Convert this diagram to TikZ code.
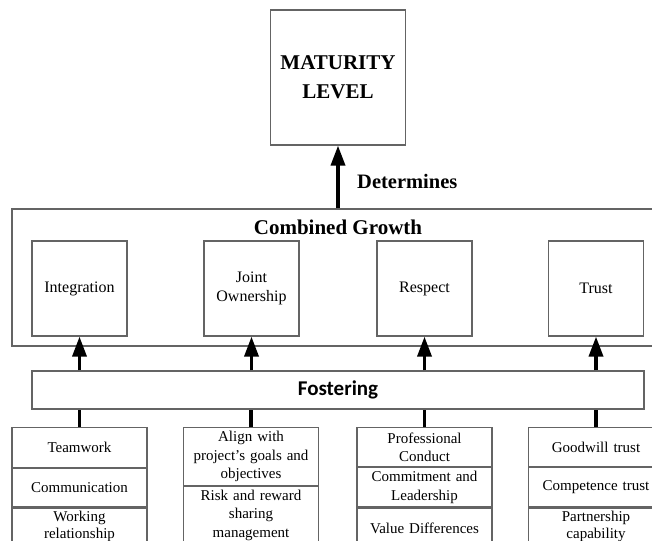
\documentclass[tikz,border=0pt]{standalone}
\usepackage{fontspec}
\setmainfont{Liberation Serif}
\newfontfamily\calibri{Carlito}
\usetikzlibrary{positioning,arrows.meta}
\definecolor{edgegray}{RGB}{100,100,100}

\begin{document}
\begin{tikzpicture}[x=1pt,y=-1pt,
    box/.style={draw=edgegray,line width=1.2pt,align=center},
    goal/.style={box,minimum width=95pt,minimum height=95pt,
      font=\fontsize{16}{18.5}\selectfont},
    factor/.style={box,minimum width=135pt,text width=131pt,
      inner xsep=2pt,inner ysep=0pt,font=\fontsize{15}{18.5}\selectfont},
    up/.style={line width=3.5pt,-{Triangle[length=20pt,width=14pt]}},
    link/.style={line width=3.5pt}]
  \useasboundingbox (0,0) rectangle (652,540);
  \clip (0,0) rectangle (652,540);

  % top level
  \node[box,minimum width=135pt,minimum height=135pt,
    font=\bfseries\fontsize{21}{29}\selectfont] (mat) at (338,77.5) {MATURITY\\LEVEL};
  \node[anchor=west,inner sep=0pt,font=\bfseries\fontsize{20.5}{24}\selectfont]
    (det) at (357,181) {Determines};

  % combined growth
  \node[box,minimum width=652pt,minimum height=137pt] (comb) at (338,277.5) {};
  \node[font=\bfseries\fontsize{21}{24}\selectfont] (growth) at (338,227) {Combined Growth};
  \node[goal] (integ) at (79.5,288.5) {Integration};
  \node[goal] (joint) at (251.5,288.5) {Joint\\Ownership};
  \node[goal] (resp) at (424.5,288.5) {Respect};
  \node[goal] (trust) at (596,288.5) {Trust};

  \node[box,minimum width=612pt,minimum height=38pt,
    font=\calibri\bfseries\fontsize{21}{24}\selectfont] (fost) at (338,390) {Fostering};

  % factors
  \node[factor,minimum height=40pt,anchor=north] (team) at (79.5,427) {Teamwork};
  \node[factor,minimum height=38pt,below=0pt of team] (comm) {Communication};
  \node[factor,minimum height=37pt,below=0pt of comm,
    font=\fontsize{15}{16.5}\selectfont] (work) {Working\\relationship};

  \node[factor,minimum height=58pt,anchor=north] (align) at (251,427) {Align with\\project's goals and\\objectives};
  \node[factor,minimum height=57pt,below=0pt of align] (risk) {Risk and reward\\sharing\\management};

  \node[factor,minimum height=39pt,anchor=north] (prof) at (424.5,427) {Professional\\Conduct};
  \node[factor,minimum height=39pt,below=0pt of prof] (lead) {Commitment and\\Leadership};
  \node[factor,minimum height=40pt,below=0pt of lead] (value) {Value Differences};

  \node[factor,minimum height=39pt,anchor=north] (good) at (596,427) {Goodwill trust};
  \node[factor,minimum height=39pt,below=0pt of good] (comp) {Competence trust};
  \node[factor,minimum height=37pt,below=0pt of comp,
    font=\fontsize{15}{16.5}\selectfont] (part) {Partnership\\capability};

  % connectors
  \draw[up] (comb.north) -- (mat.south);
  \foreach \g in {integ,joint,resp,trust}
    \draw[up] (\g.south |- fost.north) -- (\g.south);
  \foreach \f in {team,align,prof,good}
    \draw[link] (\f.north) -- (\f.north |- fost.south);
\end{tikzpicture}
\end{document}
